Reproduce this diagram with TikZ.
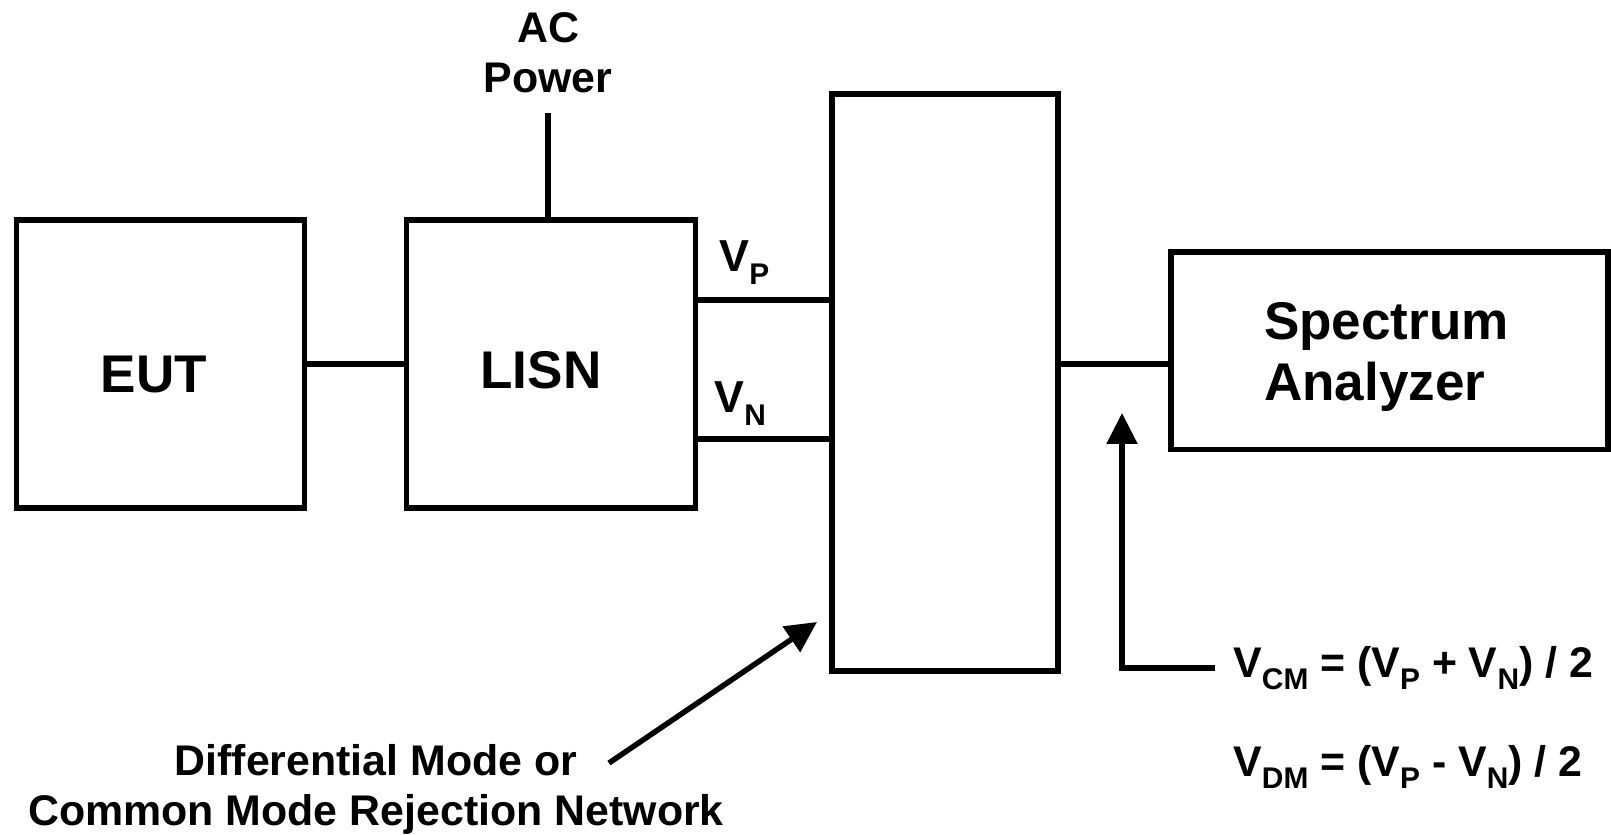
\documentclass[tikz,border=0pt]{standalone}
\usepackage{fontspec}
\setmainfont{Liberation Sans}
\usetikzlibrary{arrows.meta,positioning,calc}

\newcommand{\lowsub}[1]{\raisebox{-0.27em}{\fontsize{17}{20}\selectfont #1}}

\begin{document}
\begin{tikzpicture}[
    font=\fontsize{24.4}{28.2}\selectfont\bfseries,
    box/.style={draw,line width=3.1pt,inner sep=0pt},
    bigtxt/.style={font=\fontsize{30.2}{34.8}\selectfont\bfseries},
    labtxt/.style={font=\fontsize{25.5}{28}\selectfont\bfseries},
    wire/.style={line width=3.1pt},
    arrow/.style={-{Triangle[length=0.62cm,width=0.6cm]},line width=3.1pt}
]
\useasboundingbox (0,0) rectangle (32.22,16.68);
\node[box,minimum width=5.76cm,minimum height=5.76cm,
      label={[bigtxt,xshift=-0.13cm,yshift=-0.22cm]center:EUT}] (eut) at (3.21,9.4) {};
\node[box,minimum width=5.77cm,minimum height=5.76cm,
      label={[bigtxt,xshift=-0.2cm,yshift=-0.13cm]center:LISN}] (lisn) at (11.02,9.4) {};
\node[box,minimum width=4.52cm,minimum height=11.54cm] (rejnet) at (18.9,9.03) {};
\node[box,minimum width=8.74cm,minimum height=3.95cm,
      label={[bigtxt,align=left,xshift=-0.06cm,yshift=-0.13cm]center:Spectrum\\Analyzer}] (sa) at (27.79,9.665) {};
\node[align=center,inner ysep=0.4cm] (acpwr) at (10.96,15.62) {AC\\Power};
\node[labtxt,anchor=base west,inner sep=0pt] (vp) at (14.38,11.24) {V\lowsub{P}};
\node[labtxt,anchor=base west,inner sep=0pt] (vn) at (14.28,8.42) {V\lowsub{N}};
\node[anchor=west,inner xsep=0.36cm] (vcm) at (24.3,3.32) {V\lowsub{CM} = (V\lowsub{P} + V\lowsub{N}) / 2};
\node[anchor=west,inner xsep=0.36cm] (vdm) at (24.3,1.34) {V\lowsub{DM} = (V\lowsub{P} - V\lowsub{N}) / 2};
\node[align=center] (dmnote) at (7.52,0.89) {Differential Mode or\\Common Mode Rejection Network};
\coordinate (dmtail) at (12.18,1.42);
\coordinate (dmtip) at (16.34,4.24);
\coordinate (cmtip) at (22.44,8.42);
% connections
\draw[wire] (acpwr.south) -- (acpwr.south |- lisn.north);
\draw[wire] (eut) -- (lisn);
\draw[wire] ([yshift=1.28cm]lisn.east) -- ([yshift=1.28cm]lisn.east -| rejnet.west);
\draw[wire] ([yshift=-1.5cm]lisn.east) -- ([yshift=-1.5cm]lisn.east -| rejnet.west);
\draw[wire] (rejnet.east |- lisn.east) -- (sa.west |- lisn.east);
\draw[arrow] (vcm.west) -| (cmtip);
\draw[arrow] (dmtail) -- (dmtip);
\end{tikzpicture}
\end{document}
